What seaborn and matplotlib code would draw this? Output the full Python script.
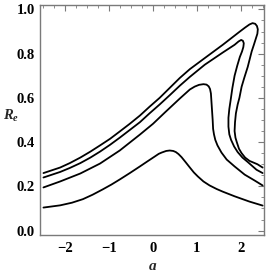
import matplotlib
matplotlib.use("Agg")
import matplotlib.pyplot as plt
from matplotlib.ticker import MultipleLocator
import seaborn as sns

# curves, in drawing order (they fold back on themselves)
a1 = [-2.50, -2.12, -1.90, -1.66, -1.43, -1.21, -0.98, -0.76, -0.53, -0.30, -0.08, 0.15, 0.38,
      0.61, 0.84, 1.18, 1.59, 1.98, 2.10, 2.20, 2.27, 2.33, 2.37, 2.39, 2.38, 2.34, 2.30, 2.25,
      2.16, 2.08, 2.02, 1.97, 1.93, 1.89, 1.87, 1.86, 1.88, 1.91, 1.96, 2.02, 2.10, 2.20, 2.38, 2.50]
r1 = [0.26, 0.285, 0.305, 0.33, 0.357, 0.385, 0.415, 0.448, 0.483, 0.52, 0.56, 0.60, 0.645,
      0.69, 0.73, 0.78, 0.84, 0.90, 0.918, 0.932, 0.938, 0.935, 0.925, 0.91, 0.89, 0.865, 0.84, 0.81,
      0.74, 0.69, 0.65, 0.60, 0.57, 0.53, 0.49, 0.45, 0.42, 0.40, 0.37, 0.35, 0.33, 0.315, 0.30, 0.285]

a2 = [-2.50, -2.12, -1.90, -1.66, -1.43, -1.21, -0.98, -0.76, -0.53, -0.30, -0.08, 0.15, 0.38,
      0.61, 0.84, 1.18, 1.59, 1.86, 1.95, 2.01, 2.05, 2.07, 2.06, 2.03, 1.98, 1.92, 1.86, 1.81,
      1.77, 1.74, 1.72, 1.72, 1.74, 1.78, 1.85, 1.93, 2.04, 2.16, 2.36, 2.50]
r2 = [0.24, 0.265, 0.283, 0.305, 0.33, 0.357, 0.388, 0.42, 0.455, 0.49, 0.53, 0.57, 0.612,
      0.655, 0.695, 0.75, 0.805, 0.84, 0.855, 0.862, 0.858, 0.847, 0.83, 0.81, 0.785, 0.745, 0.70, 0.645,
      0.59, 0.55, 0.51, 0.47, 0.435, 0.41, 0.38, 0.355, 0.33, 0.31, 0.275, 0.26]

a3 = [-2.50, -2.12, -1.66, -1.21, -0.76, -0.30, 0.00, 0.27, 0.61, 0.84, 0.95, 1.05, 1.15, 1.22,
      1.27, 1.30, 1.32, 1.33, 1.34, 1.36, 1.37, 1.39, 1.42, 1.47, 1.56, 1.68, 1.86, 2.09, 2.32, 2.50]
r3 = [0.195, 0.222, 0.258, 0.303, 0.362, 0.434, 0.483, 0.534, 0.597, 0.638, 0.651, 0.659, 0.662, 0.660,
      0.652, 0.64, 0.62, 0.59, 0.56, 0.50, 0.46, 0.435, 0.41, 0.385, 0.353, 0.321, 0.290, 0.253, 0.226, 0.204]

a4 = [-2.50, -2.12, -1.85, -1.60, -1.38, -1.15, -0.95, -0.76, -0.53, -0.30, -0.12, 0.04, 0.13, 0.20,
      0.30, 0.38, 0.46, 0.52, 0.58, 0.65, 0.74, 0.84, 0.93, 1.02, 1.15, 1.29, 1.45, 1.59, 1.86, 2.20, 2.50]
r4 = [0.104, 0.114, 0.126, 0.142, 0.162, 0.186, 0.208, 0.231, 0.260, 0.290, 0.314, 0.335, 0.347, 0.353,
      0.360, 0.362, 0.360, 0.355, 0.346, 0.332, 0.310, 0.285, 0.263, 0.245, 0.222, 0.204, 0.188, 0.176,
      0.155, 0.131, 0.113]

curves = [(a1, r1), (a2, r2), (a3, r3), (a4, r4)]

sns.set_style("white")
plt.rcParams["font.family"] = ["Liberation Serif", "DejaVu Serif"]
plt.rcParams["mathtext.fontset"] = "custom"
plt.rcParams["mathtext.it"] = "Liberation Serif:italic:bold"
plt.rcParams["mathtext.rm"] = "Liberation Serif:bold"

fig = plt.figure(figsize=(2.70, 2.76), dpi=100)
ax = fig.add_axes([0.148, 0.1486, 0.8296, 0.8333])

for a, r in curves:
    sns.lineplot(x=a, y=r, sort=False, estimator=None, color="black", lw=1.3, ax=ax,
                 solid_joinstyle="round")

ax.set_xlim(-2.58, 2.53)
ax.set_ylim(-0.02, 1.02)

ax.xaxis.set_major_locator(MultipleLocator(1))
ax.xaxis.set_minor_locator(MultipleLocator(0.25))
ax.yaxis.set_major_locator(MultipleLocator(0.2))
ax.yaxis.set_minor_locator(MultipleLocator(0.05))
ax.set_yticks([0.0, 0.2, 0.4, 0.6, 0.8, 1.0])
ax.set_yticklabels(["0.0", "0.2", "0.4", "0.6", "0.8", "1.0"])

grey = "#7a7a7a"
for s in ax.spines.values():
    s.set_visible(True)
    s.set_color(grey)
    s.set_linewidth(1.0)

ax.tick_params(which="both", direction="in", top=True, right=True, color=grey,
               labelsize=10.5, labelcolor="black")
ax.tick_params(which="major", length=4, width=0.8)
ax.tick_params(which="minor", length=2, width=0.6)
ax.tick_params(axis="x", pad=5)
ax.tick_params(axis="y", pad=3.5)
for lab in ax.get_xticklabels() + ax.get_yticklabels():
    lab.set_fontweight("bold")

ax.set_xlabel("")
ax.set_ylabel("")
fig.text(0.567, 0.036, "$a$", ha="center", va="center", fontsize=11)
fig.text(0.040, 0.58, "$R_e$", ha="center", va="center", fontsize=10.5)

fig.savefig("out.png", dpi=100)
